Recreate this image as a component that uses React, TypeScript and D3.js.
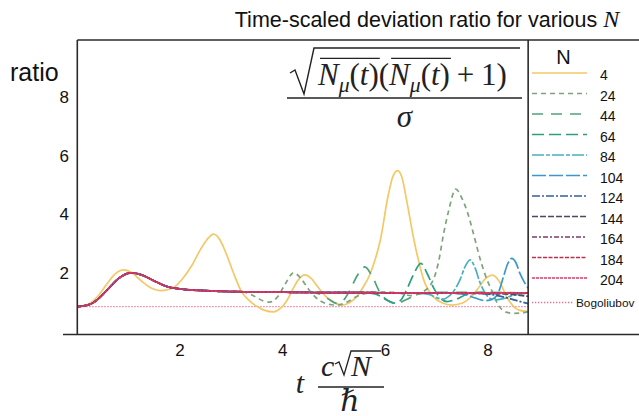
import React from "react";
import * as d3 from "d3";

// ---------------- data ----------------
const nValues = [4, 24, 44, 64, 84, 104, 124, 144, 164, 184, 204];
const seriesColors = ["#F3C866", "#7FA47C", "#4FA27A", "#2E9E83", "#4AB0C0", "#3A98CC", "#34609A", "#4B4B5E", "#7E3A70", "#B8304E", "#E23468"];
const seriesDash = ["", "5,4", "11,8", "12,5", "12,2,4,2", "14,3", "8,2,2,2", "6,2", "5,2,2,2", "4,1.5", "3,1"];
const bogoliubovRatio = 0.845;
const bogoliubovColor = "#E8709A";
const xTickValues = [2, 4, 6, 8];
const yTickValues = [2, 4, 6, 8];
const tMax = 8.78;

type P = [number, number];

const curveN4: P[] = [[0,0.85],[0.2,0.92],[0.4,1.2],[0.6,1.68],[0.75,1.98],[0.9,2.1],[1.05,2.02],[1.25,1.72],[1.45,1.47],[1.61,1.39],[1.78,1.43],[1.9,1.53],[2.05,1.8],[2.23,2.25],[2.4,2.8],[2.52,3.12],[2.65,3.32],[2.78,3.12],[2.9,2.65],[3.04,2.0],[3.2,1.35],[3.35,1.05],[3.5,0.85],[3.65,0.72],[3.82,0.67],[3.95,0.78],[4.08,1.05],[4.2,1.45],[4.3,1.75],[4.43,1.93],[4.55,1.82],[4.7,1.48],[4.85,1.18],[4.98,1.01],[5.15,0.9],[5.3,0.98],[5.45,1.2],[5.58,1.55],[5.7,1.95],[5.8,2.45],[5.9,3.1],[6.05,4.6],[6.15,5.3],[6.24,5.48],[6.33,5.2],[6.41,4.5],[6.57,3.0],[6.77,1.64],[6.93,1.19],[7.1,0.98],[7.3,0.9],[7.5,0.97],[7.65,1.15],[7.78,1.41],[7.95,1.8],[8.09,1.92],[8.22,1.7],[8.36,1.19],[8.48,0.88],[8.6,0.73],[8.78,0.68]];

const sharedStart: P[] = [[0,0.85],[0.15,0.88],[0.3,0.97],[0.45,1.18],[0.6,1.45],[0.8,1.8],[1.05,2.0],[1.25,1.93],[1.5,1.72],[1.75,1.53],[2.0,1.45],[2.5,1.39],[3.0,1.36]];

const tailN24: P[] = [[3.2,1.35],[3.36,1.28],[3.5,1.15],[3.62,1.04],[3.75,1.0],[3.9,1.18],[4.05,1.62],[4.21,2.0],[4.35,1.82],[4.5,1.45],[4.65,1.15],[4.85,0.95],[5.05,0.9],[5.25,1.0],[5.45,1.2],[5.7,1.32],[6.0,1.35],[6.3,1.3],[6.5,1.22],[6.7,1.32],[6.93,1.75],[7.05,2.5],[7.13,3.3],[7.23,4.1],[7.37,4.85],[7.5,4.5],[7.6,4.05],[7.72,3.3],[7.84,2.5],[7.95,1.9],[8.07,1.4],[8.2,0.9],[8.35,0.66],[8.5,0.62],[8.65,0.63],[8.78,0.68]];
const tailN44: P[] = [[3.5,1.35],[4.0,1.34],[4.5,1.33],[4.72,1.28],[4.88,1.12],[5.05,0.96],[5.18,1.06],[5.31,1.41],[5.45,1.9],[5.6,2.2],[5.75,1.85],[5.9,1.31],[6.05,1.05],[6.22,0.96],[6.4,1.08],[6.6,1.25],[6.9,1.33],[7.5,1.33],[8.78,1.31]];
const tailN64: P[] = [[3.5,1.35],[4.5,1.33],[5.5,1.33],[5.8,1.28],[5.98,1.12],[6.17,0.97],[6.3,1.07],[6.42,1.45],[6.55,1.95],[6.69,2.32],[6.82,1.95],[6.95,1.45],[7.08,1.12],[7.2,1.02],[7.38,1.1],[7.58,1.26],[7.85,1.33],[8.78,1.31]];
const tailN84: P[] = [[3.5,1.35],[4.5,1.33],[6.0,1.32],[6.6,1.31],[6.85,1.26],[7.0,1.15],[7.12,1.1],[7.22,1.18],[7.32,1.35],[7.45,1.75],[7.55,2.2],[7.65,2.44],[7.75,2.15],[7.84,1.68],[7.97,1.24],[8.13,1.07],[8.3,1.12],[8.5,1.24],[8.78,1.3]];
const tailN104: P[] = [[3.5,1.35],[4.5,1.33],[6.0,1.32],[7.3,1.31],[7.55,1.26],[7.75,1.14],[7.95,1.05],[8.1,1.12],[8.2,1.32],[8.3,1.87],[8.38,2.3],[8.46,2.49],[8.54,2.35],[8.62,1.98],[8.7,1.7],[8.78,1.47]];
const tailN124: P[] = [[3.5,1.35],[4.5,1.33],[6.0,1.32],[7.5,1.31],[7.9,1.29],[8.1,1.25],[8.4,1.13],[8.6,1.03],[8.78,0.95]];
const tailN144: P[] = [[3.5,1.35],[4.5,1.33],[6.0,1.32],[7.5,1.3],[8.3,1.28],[8.78,1.2]];
const plateauTail: P[] = [[3.5,1.35],[4.5,1.33],[6.0,1.32],[7.5,1.31],[8.78,1.31]];

const seriesPoints: P[][] = [
  curveN4,
  [...sharedStart, ...tailN24],
  [...sharedStart, ...tailN44],
  [...sharedStart, ...tailN64],
  [...sharedStart, ...tailN84],
  [...sharedStart, ...tailN104],
  [...sharedStart, ...tailN124],
  [...sharedStart, ...tailN144],
  [...sharedStart, ...plateauTail],
  [...sharedStart, ...plateauTail],
  [...sharedStart, ...plateauTail],
];

const SANS = "'Liberation Sans', Arial, Helvetica, sans-serif";
const SERIF = "'Liberation Serif', 'DejaVu Serif', 'Times New Roman', serif";

function NMu({ x0, base, F }: { x0: number; base: number; F: number }) {
  // overlined N_mu(t)
  const wN = 0.667 * F, wMu = 0.5 * 0.7 * F, wP = 0.333 * F, wT = 0.278 * F;
  const total = wN + wMu + wP + wT + wP;
  return (
    <g>
      <line x1={x0 + 2} x2={x0 + total + 1} y1={base - 0.86 * F} y2={base - 0.86 * F} stroke="#222" strokeWidth={1.3} />
      <text x={x0} y={base} fontFamily={SERIF} fontStyle="italic" fontSize={F} fill="#222">N</text>
      <text x={x0 + wN} y={base + 0.22 * F} fontFamily={SERIF} fontStyle="italic" fontSize={0.7 * F} fill="#222">μ</text>
      <text x={x0 + wN + wMu} y={base} fontFamily={SERIF} fontSize={F} fill="#222">(</text>
      <text x={x0 + wN + wMu + wP} y={base} fontFamily={SERIF} fontStyle="italic" fontSize={F} fill="#222">t</text>
      <text x={x0 + wN + wMu + wP + wT} y={base} fontFamily={SERIF} fontSize={F} fill="#222">)</text>
    </g>
  );
}

function TopFormula() {
  const F = 31;
  const base = 85;
  const barL = 287, barR = 522, barY = 98;
  const wNMu = (0.667 + 0.35 + 0.333 + 0.278 + 0.333) * F;
  const c0 = 318;
  const c1 = c0 + wNMu;
  const c2 = c1 + 0.333 * F;
  const c3 = c2 + wNMu;
  const c4 = c3 + 0.22 * F;
  const c5 = c4 + 0.564 * F + 0.22 * F;
  const c6 = c5 + 0.5 * F;
  return (
    <g>
      <path d={`M ${barL + 3} 73 L ${barL + 8} 70 L ${barL + 17} 94 L ${barL + 27} 48 L ${barR - 2} 48`} fill="none" stroke="#222" strokeWidth={1.4} />
      <NMu x0={c0} base={base} F={F} />
      <text x={c1} y={base} fontFamily={SERIF} fontSize={F} fill="#222">(</text>
      <NMu x0={c2} base={base} F={F} />
      <text x={c4} y={base} fontFamily={SERIF} fontSize={F} fill="#222">+</text>
      <text x={c5} y={base} fontFamily={SERIF} fontSize={F} fill="#222">1</text>
      <text x={c6} y={base} fontFamily={SERIF} fontSize={F} fill="#222">)</text>
      <line x1={barL} x2={barR} y1={barY} y2={barY} stroke="#222" strokeWidth={1.4} />
      <text x={(barL + barR) / 2} y={127} textAnchor="middle" fontFamily={SERIF} fontStyle="italic" fontSize={F} fill="#222">σ</text>
    </g>
  );
}

function AxisLabel() {
  const F = 30;
  return (
    <g>
      <text x={300} y={393} textAnchor="middle" fontFamily={SERIF} fontStyle="italic" fontSize={F} fill="#222">t</text>
      <text x={321} y={376} fontFamily={SERIF} fontStyle="italic" fontSize={F} fill="#222">c</text>
      <path d="M 335 364 L 339 362 L 344 375 L 351 351 L 381 351" fill="none" stroke="#222" strokeWidth={1.3} />
      <text x={351} y={376} fontFamily={SERIF} fontStyle="italic" fontSize={F} fill="#222">N</text>
      <line x1={318} x2={384} y1={387} y2={387} stroke="#222" strokeWidth={1.4} />
      <text x={350} y={411} textAnchor="middle" fontFamily={SERIF} fontStyle="italic" fontSize={F} fill="#222">ℏ</text>
    </g>
  );
}

export default function App() {
  const x = d3.scaleLinear().domain([0, 10]).range([77.3, 590.8]);
  const y = d3.scaleLinear().domain([0, 10]).range([331.5, 38]);
  const line = d3
    .line<P>()
    .x((d) => x(d[0]))
    .y((d) => y(d[1]))
    .curve(d3.curveMonotoneX);

  const plotL = x(0), plotR = x(tMax), frameTop = 40, frameBottom = 334.5;
  const legendLineX1 = 532, legendLineX2 = 587, legendTextX = 600;
  const legendRow = (i: number) => 75 + i * 20.5;

  return (
    <svg width={639} height={416} viewBox="0 0 639 416" style={{ position: "absolute", left: 0, top: 0, background: "#fff" }}>
      <rect x={0} y={0} width={639} height={416} fill="#fff" />
      <defs>
        <clipPath id="plotClip">
          <rect x={plotL} y={frameTop} width={plotR - plotL} height={frameBottom - frameTop} />
        </clipPath>
      </defs>

      {/* title */}
      <text x={427} y={27} textAnchor="middle" fontFamily={SANS} fontSize={21.5} fill="#111">
        Time-scaled deviation ratio for various{" "}
        <tspan fontFamily={SERIF} fontStyle="italic" fontSize={24}>N</tspan>
      </text>

      {/* y label */}
      <text x={10} y={81} fontFamily={SANS} fontSize={25} fill="#111">ratio</text>

      {/* y ticks */}
      {yTickValues.map((v) => (
        <text key={v} x={69} y={y(v)} dy="0.36em" textAnchor="end" fontFamily={SANS} fontSize={17} fill="#111">
          {v}
        </text>
      ))}
      {/* x ticks */}
      {xTickValues.map((v) => (
        <text key={v} x={x(v)} y={350} dy="0.36em" textAnchor="middle" fontFamily={SANS} fontSize={17} fill="#111">
          {v}
        </text>
      ))}

      {/* curves */}
      <g clipPath="url(#plotClip)">
        <line x1={x(0)} x2={x(tMax)} y1={y(bogoliubovRatio)} y2={y(bogoliubovRatio)} stroke={bogoliubovColor} strokeWidth={1.3} strokeDasharray="1.3,1.7" />
        {seriesPoints.map((pts, i) => (
          <path
            key={nValues[i]}
            d={line(pts) || ""}
            fill="none"
            stroke={seriesColors[i]}
            strokeWidth={1.7}
            strokeDasharray={seriesDash[i] || undefined}
            strokeLinejoin="round"
          />
        ))}
      </g>

      <TopFormula />

      {/* frame */}
      <g stroke="#2a2a2a" strokeWidth={1.6}>
        <line x1={plotL} x2={plotL} y1={frameTop} y2={frameBottom} />
        <line x1={plotL} x2={639} y1={frameTop} y2={frameTop} />
        <line x1={63} x2={639} y1={frameBottom} y2={frameBottom} />
        <line x1={plotR} x2={plotR} y1={frameTop} y2={frameBottom} />
      </g>

      {/* legend */}
      <text x={563.5} y={64} textAnchor="middle" fontFamily={SANS} fontSize={20} fill="#111">N</text>
      {nValues.map((n, i) => (
        <g key={n}>
          <line x1={legendLineX1} x2={legendLineX2} y1={legendRow(i) - 2} y2={legendRow(i) - 2} stroke={seriesColors[i]} strokeWidth={1.3} strokeDasharray={seriesDash[i] || undefined} />
          <text x={legendTextX} y={legendRow(i)} dy="0.36em" fontFamily={SANS} fontSize={14} fill="#111">{n}</text>
        </g>
      ))}
      <line x1={legendLineX1} x2={574} y1={legendRow(11) + 2} y2={legendRow(11) + 2} stroke={bogoliubovColor} strokeWidth={1.3} strokeDasharray="1.3,1.7" />
      <text x={576} y={legendRow(11) + 2} dy="0.36em" fontFamily={SANS} fontSize={11.8} fill="#111">Bogoliubov</text>

      <AxisLabel />
    </svg>
  );
}
